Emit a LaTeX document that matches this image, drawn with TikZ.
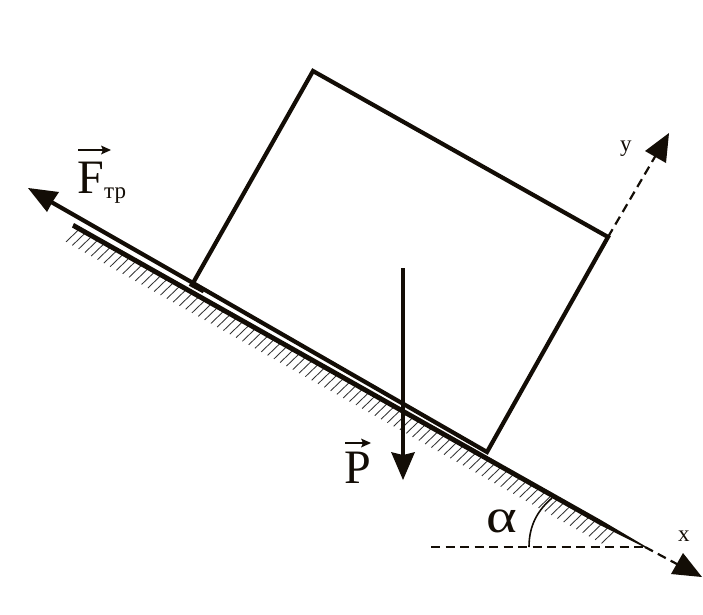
\documentclass[tikz,border=0pt]{standalone}
\usepackage{fontspec}
\setmainfont{Liberation Serif}
\tikzset{
  x=1pt,y=-1pt,
  ink/.style={line width=4.2pt,draw=black!90!brown,line cap=butt},
  inkfill/.style={fill=black!90!brown,draw=none},
  dashline/.style={draw=black!90!brown,line width=2.2pt,dash pattern=on 9pt off 5.5pt},
  hatchline/.style={draw=black!80,line width=0.85pt},
  lab/.style={inner sep=0pt,anchor=base west,text=black!90!brown},
  big/.style={lab,font=\fontsize{48}{48}\selectfont},
  small/.style={lab,font=\fontsize{23}{23}\selectfont},
}
\begin{document}
\begin{tikzpicture}
\useasboundingbox (0,0) rectangle (703,614);
\coordinate (A) at (313,71);
\coordinate (B) at (608,237);
\coordinate (C) at (487,452);
\coordinate (D) at (193,283);
\coordinate (apex) at (645,547);
\coordinate (start) at (73,225);
% hatching
\foreach \i in {0,...,85}{
  \pgfmathsetmacro{\hx}{79+6.3*\i}
  \pgfmathsetmacro{\hy}{225+0.563*(\hx-73)+1}
  \draw[hatchline] (\hx,\hy) -- ++(-13,12.5);
}
% incline (tapers to the apex)
\fill[inkfill] (74,223) -- (600,519.5) -- (645,546) -- (645,547.5) -- (598,524) -- (72,227.5) -- cycle;
% box
\draw[ink,line join=miter] (D) -- (A) -- (B) -- (C) -- cycle;
\draw[ink,line width=5pt] (190,283.5) -- (204,291);
% friction
\draw[ink] (D) -- (46,199);
\fill[inkfill] (28,188) -- (59,192) -- (53,201) -- (47,212) -- cycle;
% weight
\coordinate (Pa) at (403,268);
\coordinate (Pb) at (403,455);
\draw[ink] (Pa) -- (Pb);
\fill[inkfill] (403,480) -- (391,452) -- (403,455) -- (415,452) -- cycle;
% axes
\draw[dashline] (431,547) -- (apex);
\draw[dashline] (apex) -- (690,571);
\fill[inkfill] (702,577) -- (671,574) -- (683,553) -- cycle;
\draw[dashline] (B) -- (656,155);
\fill[inkfill] (669,133) -- (645,151) -- (666,163) -- cycle;
% angle
\draw[draw=black!90!brown,line width=1.6pt] (529,547) .. controls (529,525) and (538,510) .. (552,498);
% labels
\node[lab,font=\fontsize{48}{48}\selectfont] (F) at (77,193) {F};
\node[lab,font=\fontsize{23}{23}\selectfont] (tr) at (104,198) {тр};
\draw[line width=1.8pt,draw=black!90!brown] (78,150) -- (104,150);
\fill[inkfill] (111,150) -- (101,145.5) -- (103,150) -- (101,154.5) -- cycle;
\node[big] (P) at (344,483) {P};
\draw[line width=1.8pt,draw=black!90!brown] (345,443) -- (364,443);
\fill[inkfill] (371,443) -- (361,438.5) -- (363,443) -- (361,447.5) -- cycle;
\node[lab,font=\fontsize{48}{48}\selectfont] (al) at (486,532) {\scalebox{1.22}[1]{α}};
\node[small] (x) at (678,541) {x};
\node[small] (y) at (620,151) {y};
\end{tikzpicture}
\end{document}
